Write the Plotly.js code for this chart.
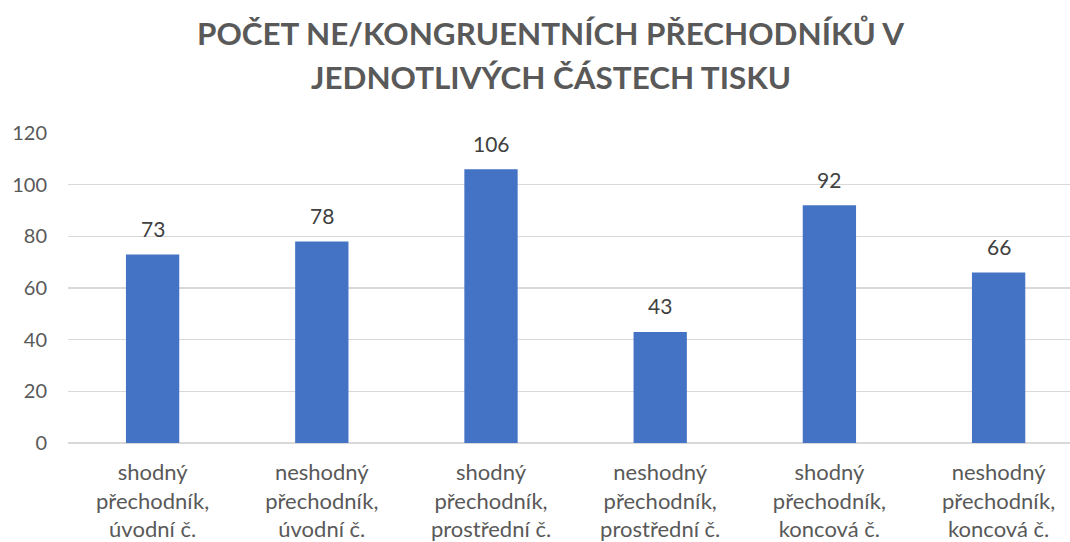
<!DOCTYPE html>
<html>
<head>
<meta charset="utf-8">
<script src="https://cdn.plot.ly/plotly-3.0.1.min.js"></script>
<style>html,body{margin:0;padding:0;background:#fff;}#chart{width:1070px;height:542px;}</style>
</head>
<body>
<div id="chart"></div>
<script>
const categories = [
  "shodný<br>přechodník,<br>úvodní č.",
  "neshodný<br>přechodník,<br>úvodní č.",
  "shodný<br>přechodník,<br>prostřední č.",
  "neshodný<br>přechodník,<br>prostřední č.",
  "shodný<br>přechodník,<br>koncová č.",
  "neshodný<br>přechodník,<br>koncová č."
];
const values = [73, 78, 106, 43, 92, 66];
const yTicks = [0, 20, 40, 60, 80, 100, 120];
const titleLines = ["POČET NE/KONGRUENTNÍCH PŘECHODNÍKŮ V", "JEDNOTLIVÝCH ČÁSTECH TISKU"];

const FONT = "Lato, 'Open Sans', sans-serif";
const trace = {
  type: "bar",
  x: categories,
  y: values,
  marker: {color: "#4472C4"},
  width: 0.315,
  hoverinfo: "none"
};
const annotations = titleLines.map((t, i) => ({
  text: "<b>" + t + "</b>",
  xref: "paper", yref: "paper",
  x: 0.482, y: 1, yshift: 133 - (i === 0 ? 33 : 77),
  xanchor: "center", yanchor: "middle",
  showarrow: false,
  font: {family: FONT, size: 31.4, color: "#595959"}
}));
categories.forEach((c, i) => {
  annotations.push({
    text: String(values[i]),
    xref: "x", yref: "y",
    x: c, y: values[i], yshift: 26,
    xanchor: "center", yanchor: "middle",
    showarrow: false,
    font: {family: FONT, size: 21, color: "#404040"}
  });
});
const catPx = 169.2, plotW = 1070 - 68;
const layout = {
  width: 1070, height: 542,
  margin: {l: 68, r: 0, t: 133, b: 99},
  paper_bgcolor: "#fff", plot_bgcolor: "#fff",
  showlegend: false,
  font: {family: FONT, color: "#595959"},
  xaxis: {
    type: "category",
    range: [-0.5, -0.5 + plotW / catPx],
    showgrid: false, zeroline: false,
    showline: false, ticks: "",
    tickfont: {family: FONT, size: 22, color: "#595959"},
    ticklabelstandoff: 14,
    automargin: false
  },
  yaxis: {
    range: [0, 120],
    tickvals: yTicks,
    ticktext: yTicks.map(String),
    showgrid: true, gridcolor: "#d9d9d9", gridwidth: 1.5,
    zeroline: true, zerolinecolor: "#d9d9d9", zerolinewidth: 1.5,
    showline: false, ticks: "",
    tickfont: {family: FONT, size: 20, color: "#595959"},
    ticklabelstandoff: 20,
    automargin: false
  },
  annotations: annotations
};
Plotly.newPlot("chart", [trace], layout, {staticPlot: true, displayModeBar: false});
</script>
</body>
</html>
